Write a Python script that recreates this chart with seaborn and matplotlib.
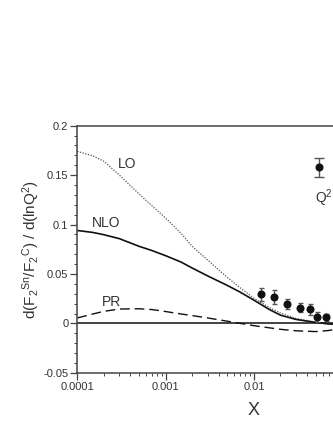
import numpy as np
import pandas as pd
import matplotlib
matplotlib.use("Agg")
import matplotlib.pyplot as plt
import seaborn as sns
from matplotlib.ticker import FixedLocator, FuncFormatter, LogLocator, MultipleLocator, NullFormatter

# ---- data ----
x_curve = [1e-4, 1.5e-4, 2e-4, 3e-4, 5e-4, 7e-4, 1e-3, 1.5e-3, 2e-3, 3e-3, 5e-3, 7e-3,
           1e-2, 1.5e-2, 2e-2, 3e-2, 5e-2, 7e-2, 1e-1]
lo_vals = [0.174, 0.1695, 0.164, 0.150, 0.131, 0.119, 0.1065, 0.091, 0.078, 0.064, 0.0465, 0.036,
           0.0255, 0.016, 0.0105, 0.005, 0.0012, -0.001, -0.002]
nlo_vals = [0.094, 0.092, 0.0897, 0.0857, 0.078, 0.0737, 0.0685, 0.062, 0.056, 0.048, 0.0384, 0.0316,
            0.0235, 0.014, 0.0083, 0.004, 0.001, -0.0005, -0.001]
pr_vals = [0.0055, 0.0095, 0.0122, 0.0145, 0.0148, 0.014, 0.012, 0.0095, 0.0079, 0.0055, 0.0022, 0.0,
           -0.0023, -0.0045, -0.006, -0.0075, -0.0083, -0.0072, -0.005]

x_data = [0.0120, 0.0168, 0.0239, 0.0335, 0.0428, 0.0522, 0.0661]
y_data = [0.0293, 0.0263, 0.0198, 0.0158, 0.0144, 0.0067, 0.0064]
y_err = [0.007, 0.007, 0.005, 0.0045, 0.0055, 0.0048, 0.0035]

legend_x = [0.0546]
legend_y = [0.158]
legend_err = [0.0096]

curve_labels = ["LO", "NLO", "PR"]
label_x = [3.63e-4, 2.11e-4, 2.45e-4]
label_y = [0.1616, 0.1016, 0.0212]

y_ticks = [-0.05, 0, 0.05, 0.1, 0.15, 0.2]
x_ticks = [1e-4, 1e-3, 1e-2, 1e-1, 1]
x_tick_labels = ["0.0001", "0.001", "0.01", "", ""]

# ---- styling ----
sns.set_style("ticks")
plt.rcParams['font.family'] = ['Liberation Sans', 'DejaVu Sans']
plt.rcParams['axes.unicode_minus'] = False
plt.rcParams['mathtext.fontset'] = 'custom'
plt.rcParams['mathtext.rm'] = 'Liberation Sans'
plt.rcParams['mathtext.it'] = 'Liberation Sans'

txt = '#333333'
fig = plt.figure(figsize=(3.33, 4.3), dpi=100)
ax = fig.add_axes([0.2321, 0.1330, 1.0607, 0.5747])

df = pd.DataFrame({
    "x": x_curve * 3,
    "y": lo_vals + nlo_vals + pr_vals,
    "curve": ["LO"] * len(x_curve) + ["NLO"] * len(x_curve) + ["PR"] * len(x_curve),
})

sns.lineplot(data=df[df.curve == "LO"], x="x", y="y", ax=ax, color='#555555',
             linestyle=(0, (1, 1.2)), linewidth=0.9, legend=False)
sns.lineplot(data=df[df.curve == "NLO"], x="x", y="y", ax=ax, color='#111111',
             linewidth=1.2, legend=False)
sns.lineplot(data=df[df.curve == "PR"], x="x", y="y", ax=ax, color='#111111',
             linestyle=(0, (7, 3.5)), linewidth=1.0, legend=False)

ax.axhline(0, color='#111111', linewidth=1.1)

ax.errorbar(x_data, y_data, yerr=y_err, fmt='o', color='#111111', ecolor='#555555',
            markersize=4.8, capsize=1.8, elinewidth=1.0, capthick=1.0)
ax.errorbar(legend_x, legend_y, yerr=legend_err, fmt='o', color='#111111', ecolor='#555555',
            markersize=4.8, capsize=3.5, elinewidth=1.0, capthick=1.0)

for lab, lx, ly in zip(curve_labels, label_x, label_y):
    ax.text(lx, ly, lab, ha='center', va='center', fontsize=10, color=txt)
ax.text(0.0492, 0.1265, "Q$^2$", ha='left', va='center', fontsize=10, color=txt)

ax.set_xscale('log')
ax.set_xlim(1e-4, 1)
ax.set_ylim(-0.05, 0.2)

ax.xaxis.set_major_locator(FixedLocator(x_ticks))
ax.set_xticklabels(x_tick_labels)
ax.xaxis.set_minor_locator(LogLocator(base=10, subs=np.arange(2, 10), numticks=20))
ax.xaxis.set_minor_formatter(NullFormatter())

ax.yaxis.set_major_locator(FixedLocator(y_ticks))
ax.yaxis.set_major_formatter(FuncFormatter(lambda v, p: '%g' % round(v, 3)))
ax.yaxis.set_minor_locator(MultipleLocator(0.01))

for s in ax.spines.values():
    s.set_color('#444444')
    s.set_linewidth(1.1)
ax.tick_params(axis='both', which='major', direction='out', length=5, width=0.9,
               colors='#444444', labelcolor=txt, labelsize=8, pad=1.5)
ax.tick_params(axis='both', which='minor', direction='out', length=2.5, width=0.7, colors='#444444')

ax.set_xlabel("X", fontsize=13, color=txt)
ax.set_ylabel("d(F$_2$$^{Sn}$/F$_2$$^C$) / d(lnQ$^2$)", fontsize=11, color=txt)
ax.xaxis.set_label_coords(0.5, -0.12)
ax.yaxis.set_label_coords(-0.10, 0.5)

fig.savefig("out.png", dpi=100)
